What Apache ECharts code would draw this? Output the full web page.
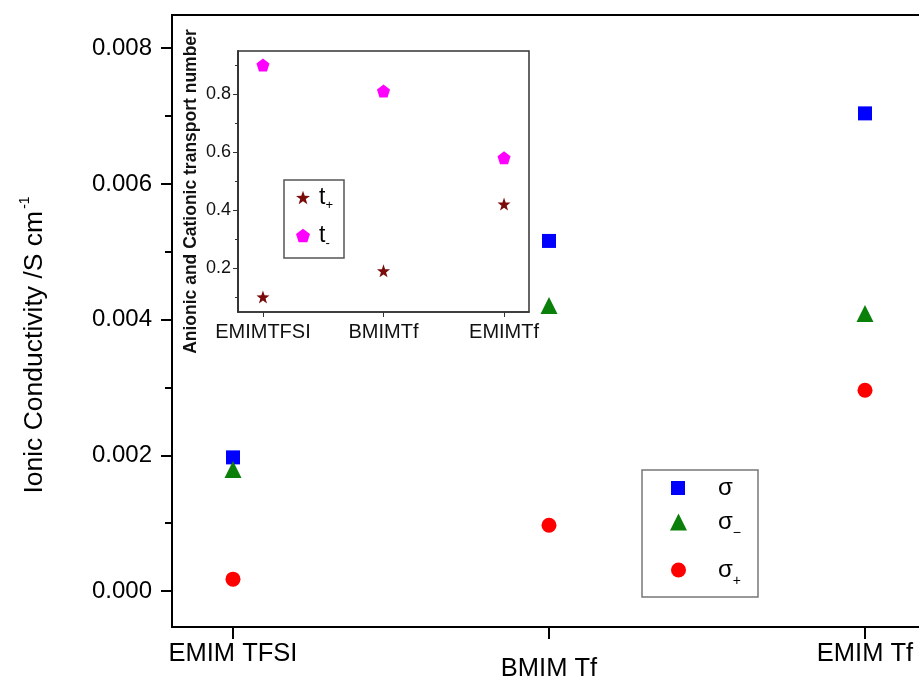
<!DOCTYPE html>
<html><head><meta charset="utf-8">
<script src="https://cdn.jsdelivr.net/npm/echarts@6/dist/echarts.min.js"></script>
<style>html,body{margin:0;padding:0;background:#fff}#c{width:919px;height:679px}</style>
</head><body><div id="c"></div><script>
const categories = ['EMIM TFSI', 'BMIM Tf', 'EMIM Tf'];
const sigma = [0.00197, 0.00516, 0.00704];
const sigmaMinus = [0.00179, 0.00421, 0.00409];
const sigmaPlus = [0.000175, 0.00097, 0.00296];
const yTicks = [0, 0.002, 0.004, 0.006, 0.008];
const yMinor = [0.001, 0.003, 0.005, 0.007];
const insetCategories = ['EMIMTFSI', 'BMIMTf', 'EMIMTf'];
const tPlus = [0.10, 0.19, 0.42];
const tMinus = [0.90, 0.81, 0.58];
const insetTicks = [0.2, 0.4, 0.6, 0.8];
const insetMinor = [0.1, 0.3, 0.5, 0.7, 0.9];

const FONT = '"Liberation Sans", Arial, sans-serif';
const STAR = 'path://M50 0 L61.76 33.82 L97.55 34.55 L69.02 56.18 L79.39 90.45 L50 70 L20.61 90.45 L30.98 56.18 L2.45 34.55 L38.24 33.82 Z';
const PENT = 'path://M50 0 L97.6 34.5 L79.4 90.5 L20.6 90.5 L2.4 34.5 Z';
const toPts = arr => arr.map((v, i) => [i, v]);

const chart = echarts.init(document.getElementById('c'), null, {renderer: 'canvas'});
const richMain = {
  m: {fontSize: 24, fontFamily: FONT, color: '#000'},
  s: {fontSize: 14, fontFamily: FONT, color: '#000', padding: [22, 0, 0, 0]}
};
const richInset = {
  m: {fontSize: 23, fontFamily: FONT, color: '#000'},
  s: {fontSize: 13, fontFamily: FONT, color: '#000', padding: [16, 0, 0, 0]}
};
const option = {
  backgroundColor: '#fff',
  animation: false,
  grid: [
    {left: 172, top: 15, width: 754, bottom: 52, show: true, borderColor: '#000', borderWidth: 2,
     backgroundColor: 'transparent', outerBoundsMode: 'none', containLabel: false},
    {left: 238, top: 51, width: 291, height: 261, show: true, borderColor: '#333', borderWidth: 1.5,
     backgroundColor: '#fff', outerBoundsMode: 'none', containLabel: false}
  ],
  xAxis: [
    {gridIndex: 0, type: 'value', min: -0.193, max: 2.193, position: 'bottom',
     axisLine: {onZero: false, lineStyle: {color: '#000', width: 2}},
     axisTick: {customValues: [0, 1, 2], length: 12, lineStyle: {color: '#000', width: 2}},
     axisLabel: {customValues: [0, 1, 2], margin: 14, fontSize: 25.5, fontFamily: FONT, color: '#000',
       formatter: v => v === 1 ? '{low|' + categories[1] + '}' : categories[Math.round(v)],
       rich: {low: {fontSize: 25.5, fontFamily: FONT, color: '#000', padding: [15, 0, 0, 0]}}},
     splitLine: {show: false}},
    {gridIndex: 1, type: 'value', min: -0.207, max: 2.207, position: 'bottom',
     axisLine: {onZero: false, lineStyle: {color: '#333', width: 1.5}},
     axisTick: {customValues: [0, 1, 2], length: 5, lineStyle: {color: '#333'}},
     axisLabel: {customValues: [0, 1, 2], margin: 10, fontSize: 20, fontFamily: FONT, color: '#111',
       formatter: v => insetCategories[Math.round(v)]},
     splitLine: {show: false}}
  ],
  yAxis: [
    {gridIndex: 0, type: 'value', min: -0.00053, max: 0.00849, position: 'left',
     name: '{a|Ionic Conductivity /S cm}{sup|-1}', nameLocation: 'middle', nameGap: 120,
     nameTextStyle: {rich: {a: {fontSize: 26.5, fontFamily: FONT, color: '#000'},
                            sup: {fontSize: 14, fontFamily: FONT, color: '#000', padding: [0, 48, 20, 2]}}},
     axisLine: {onZero: false, lineStyle: {color: '#000', width: 2}},
     axisTick: {customValues: yTicks, length: 11, lineStyle: {color: '#000', width: 2}},
     axisLabel: {customValues: yTicks, margin: 20, fontSize: 24, fontFamily: FONT, color: '#000',
       formatter: v => v.toFixed(3)},
     splitLine: {show: false}},
    {gridIndex: 0, type: 'value', min: -0.00053, max: 0.00849, position: 'left',
     axisLine: {onZero: false, lineStyle: {color: '#000', width: 2}},
     axisTick: {customValues: yMinor, length: 7, lineStyle: {color: '#000', width: 2}},
     axisLabel: {show: false}, splitLine: {show: false}},
    {gridIndex: 1, type: 'value', min: 0.048, max: 0.948, position: 'left',
     name: '{a|Anionic and Cationic transport number}', nameLocation: 'middle', nameGap: 38,
     nameTextStyle: {rich: {a: {fontSize: 17.5, fontWeight: 'bold', fontFamily: FONT, color: '#111', padding: [0, 20, 0, 0]}}},
     axisLine: {onZero: false, lineStyle: {color: '#333', width: 1.5}},
     axisTick: {customValues: insetTicks, length: 5, lineStyle: {color: '#333'}},
     axisLabel: {customValues: insetTicks, margin: 7, fontSize: 18, fontFamily: FONT, color: '#111',
       formatter: v => v.toFixed(1)},
     splitLine: {show: false}},
    {gridIndex: 1, type: 'value', min: 0.048, max: 0.948, position: 'left',
     axisLine: {onZero: false, lineStyle: {color: '#333', width: 1.5}},
     axisTick: {customValues: insetMinor, length: 3, lineStyle: {color: '#333'}},
     axisLabel: {show: false}, splitLine: {show: false}}
  ],
  legend: [
    {data: ['σ'], left: 671, top: 476, itemWidth: 14, itemHeight: 14, padding: 0,
     formatter: () => '{m|σ}', textStyle: {rich: richMain, padding: [0, 0, 0, 28]}},
    {data: ['σ−'], left: 670, top: 510, itemWidth: 17, itemHeight: 17, padding: 0,
     formatter: () => '{m|σ}{s|−}', textStyle: {rich: richMain, padding: [0, 0, 0, 26]}},
    {data: ['σ+'], left: 671, top: 558, itemWidth: 15, itemHeight: 15, padding: 0,
     formatter: () => '{m|σ}{s|+}', textStyle: {rich: richMain, padding: [0, 0, 0, 27]}},
    {data: ['t+'], left: 296, top: 186, itemWidth: 14, itemHeight: 14, padding: 0,
     formatter: () => '{m|t}{s|+}', textStyle: {rich: richInset, padding: [0, 0, 0, 4]}},
    {data: ['t−'], left: 296, top: 224, itemWidth: 14, itemHeight: 14, padding: 0,
     formatter: () => '{m|t}{s|-}', textStyle: {rich: richInset, padding: [0, 0, 0, 4]}}
  ],
  graphic: [
    {type: 'rect', shape: {x: 642, y: 470, width: 116, height: 127}, style: {fill: 'none', stroke: '#777', lineWidth: 1.5}, z: 100},
    {type: 'rect', shape: {x: 284, y: 180, width: 60, height: 78}, style: {fill: 'none', stroke: '#555', lineWidth: 1.5}, z: 100}
  ],
  series: [
    {name: 'σ', type: 'scatter', xAxisIndex: 0, yAxisIndex: 0, data: toPts(sigma),
     symbol: 'rect', symbolSize: 14, itemStyle: {color: '#0000ff', opacity: 1}},
    {name: 'σ−', type: 'scatter', xAxisIndex: 0, yAxisIndex: 0, data: toPts(sigmaMinus),
     symbol: 'triangle', symbolSize: 17, itemStyle: {color: '#0a800a', opacity: 1}},
    {name: 'σ+', type: 'scatter', xAxisIndex: 0, yAxisIndex: 0, data: toPts(sigmaPlus),
     symbol: 'circle', symbolSize: 15, itemStyle: {color: '#ff0000', opacity: 1}},
    {name: 't+', type: 'scatter', xAxisIndex: 1, yAxisIndex: 2, data: toPts(tPlus),
     symbol: STAR, symbolSize: 13, itemStyle: {color: '#7a0c0c', opacity: 1}, z: 5},
    {name: 't−', type: 'scatter', xAxisIndex: 1, yAxisIndex: 2, data: toPts(tMinus),
     symbol: PENT, symbolSize: 13, itemStyle: {color: '#ff00ff', opacity: 1}, z: 5}
  ]
};
chart.setOption(option);
</script></body></html>
